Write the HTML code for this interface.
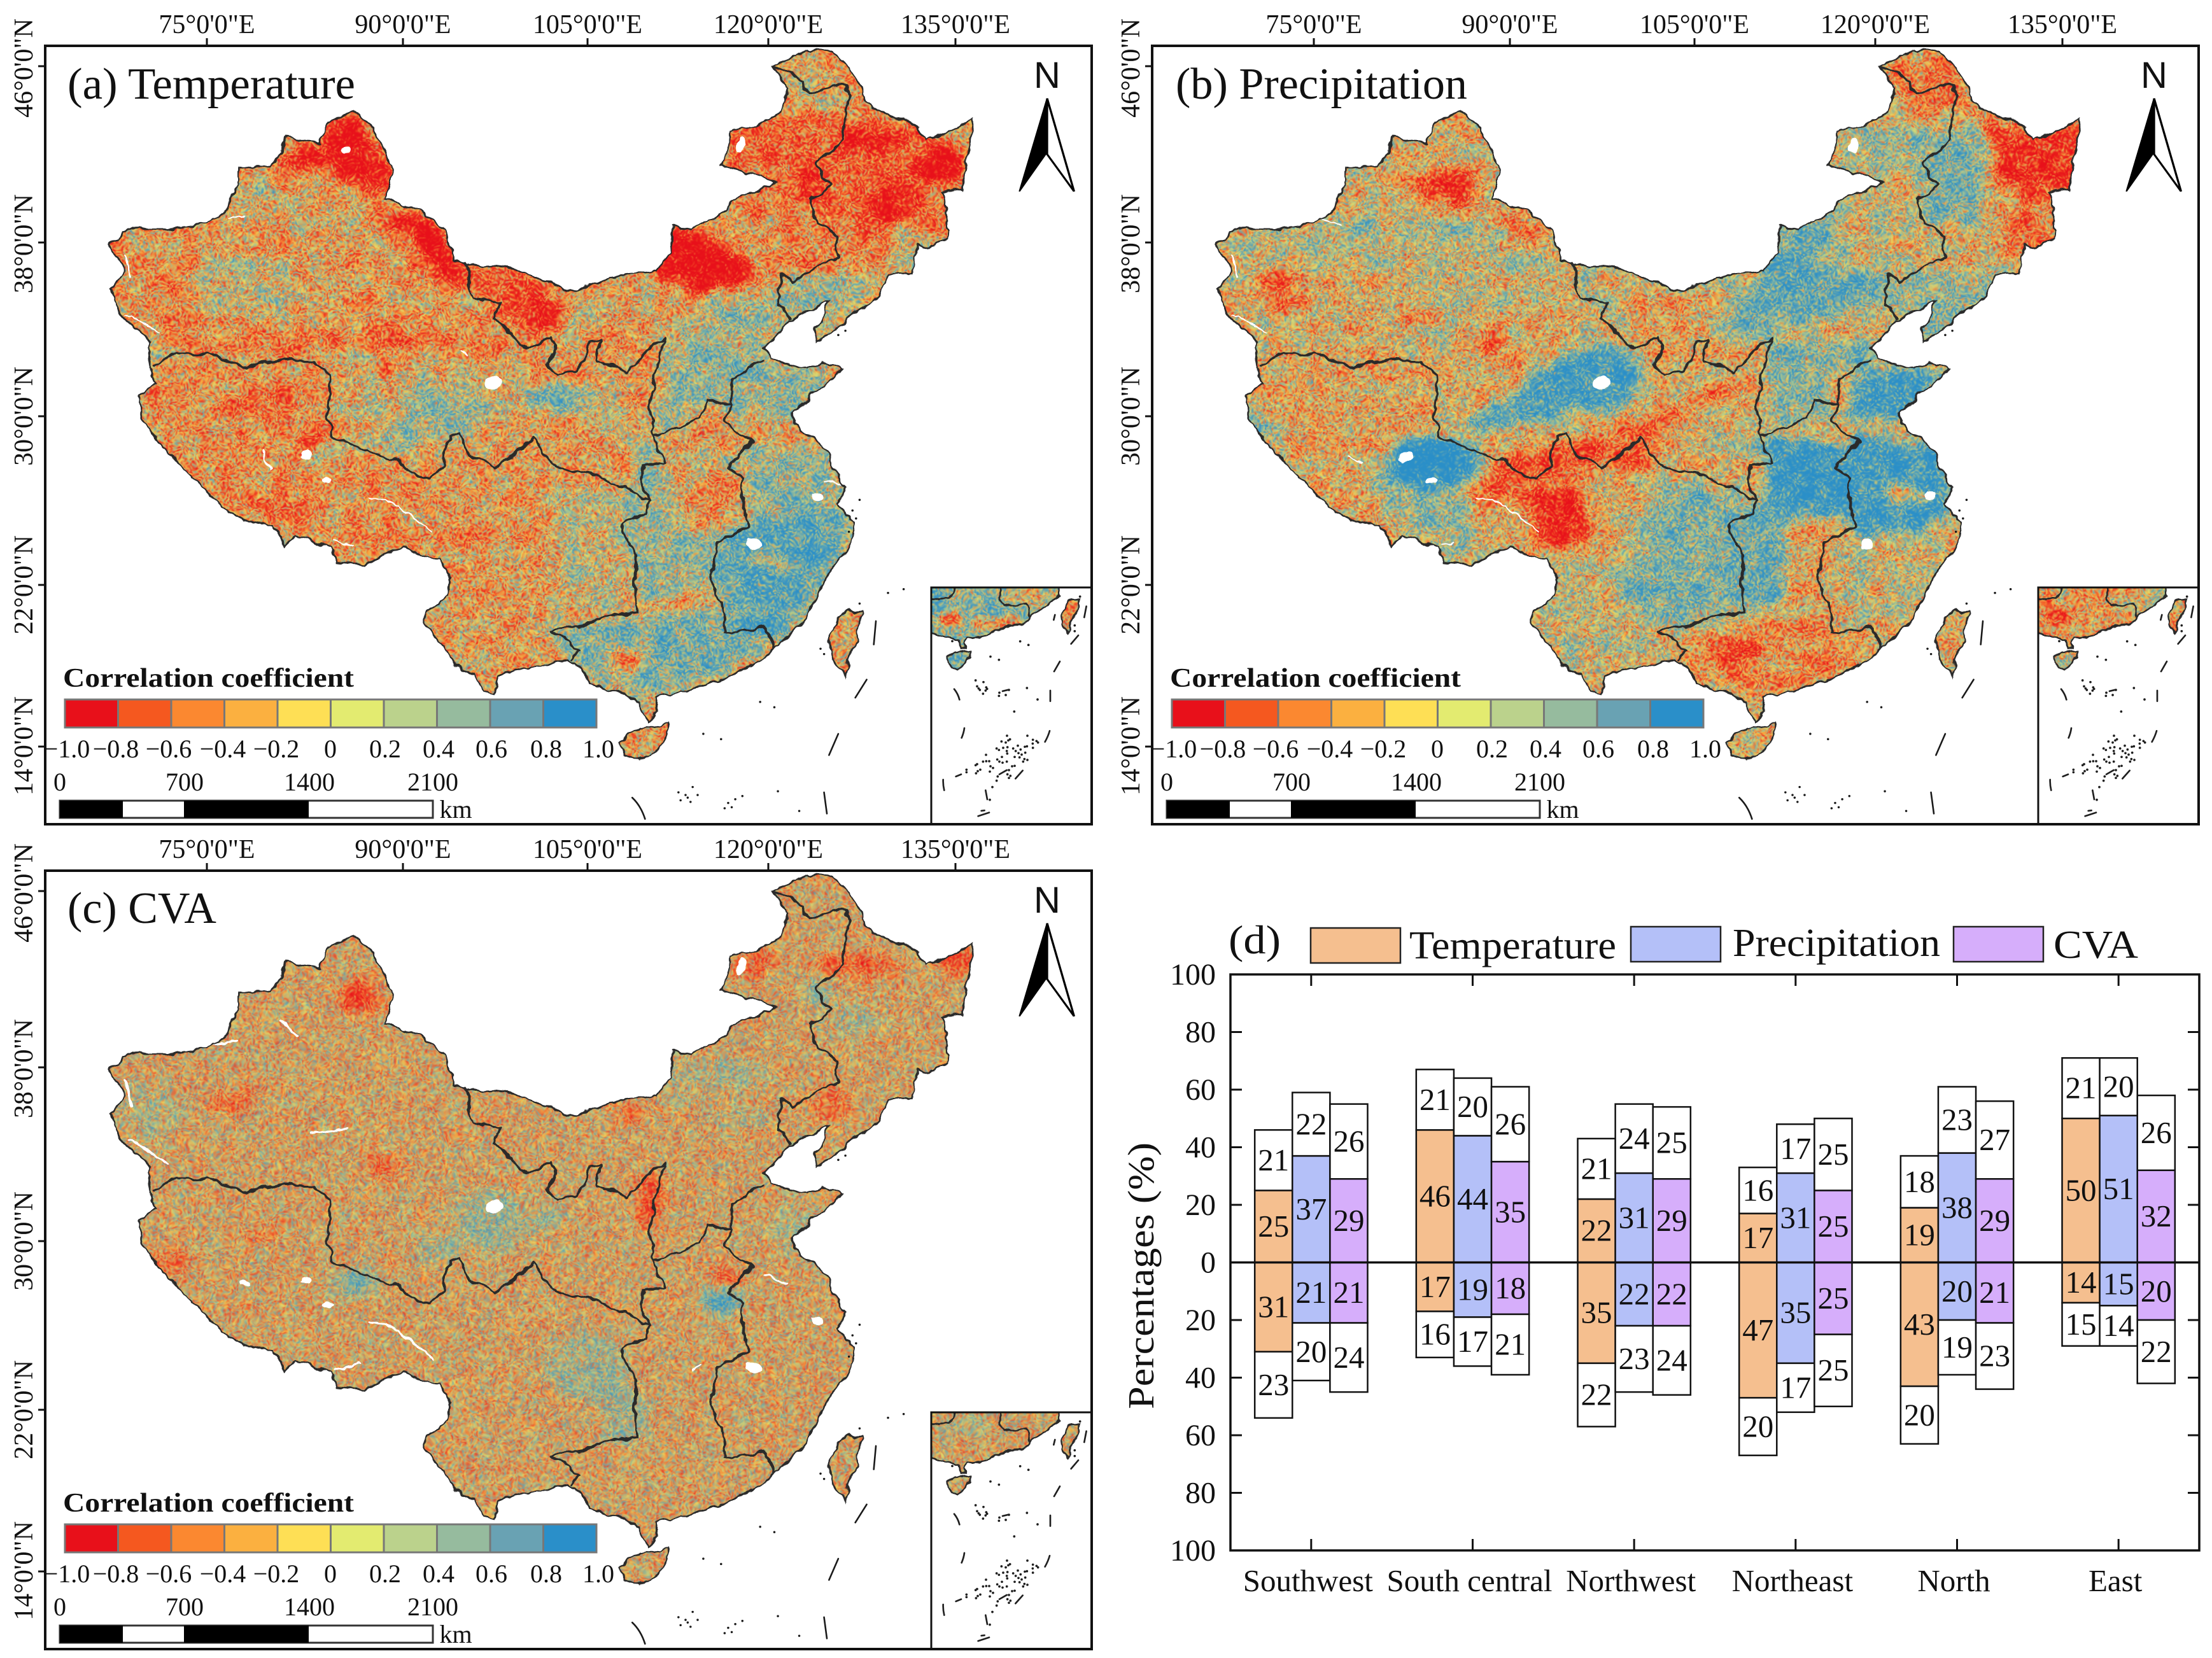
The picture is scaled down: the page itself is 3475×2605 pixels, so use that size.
<!DOCTYPE html>
<html lang="en">
<head>
<meta charset="utf-8">
<title>Correlation maps and regional percentages</title>
<style>
html,body{margin:0;padding:0;background:#fff}
svg{display:block}
text{font-family:"Liberation Serif",serif;fill:#111}
.tick{font-size:42px}
.cb{font-size:40px;text-anchor:middle}
.title{font-size:70px}
.ctitle{font-size:42px;font-weight:bold}
.north{font-family:"Liberation Sans",sans-serif;font-size:58px;text-anchor:middle}
</style>
</head>
<body>
<svg id="figure" width="3475" height="2605" viewBox="0 0 3475 2605">
<defs>
  <path id="china-shape" vector-effect="non-scaling-stroke" d="M1087 125L1135 95L1170 97L1195 125L1215 175L1235 210L1270 222L1295 240L1305 265L1340 245L1372 222L1362 290L1355 355L1325 360L1332 400L1333 445L1315 465L1290 460L1285 515L1255 515L1235 560L1195 595L1170 625L1150 645L1147 615L1160 590L1165 565L1130 590L1112 605L1090 635L1075 655L1085 675L1110 685L1135 695L1155 680L1185 695L1170 715L1140 745L1115 775L1125 810L1155 835L1175 880L1190 920L1180 945L1200 985L1195 1030L1170 1070L1150 1120L1130 1170L1095 1215L1075 1240L1030 1270L1000 1285L960 1300L925 1310L925 1340L912 1355L900 1320L870 1300L830 1285L820 1260L795 1240L745 1255L700 1270L695 1305L680 1300L670 1270L640 1250L625 1215L600 1175L600 1155L630 1120L635 1090L620 1050L600 1048L565 1030L510 1060L475 1055L465 1030L415 1005L400 1025L385 990L345 980L310 950L265 890L235 850L200 790L195 745L220 725L210 690L212 640L175 600L155 545L175 510L155 460L175 435L205 430L235 430L290 420L320 395L335 350L335 312L380 315L405 258L450 270L462 230L495 210L525 240L552 310L545 375L590 395L625 430L640 490L720 505L790 540L810 548L860 520L925 510L945 475L945 428L975 430L1010 405L1040 370L1085 350L1095 340L1030 320L1015 315L1030 245L1065 240L1100 210L1110 170Z"/>
  <path id="island-shapes" vector-effect="non-scaling-stroke" d="M1195 1150L1212 1150L1208 1190L1195 1240L1190 1272L1172 1235L1168 1195L1180 1165ZM873 1395L900 1368L940 1358L938 1380L925 1410L900 1430L878 1422Z"/>
  <path id="inset-land" vector-effect="non-scaling-stroke" d="M30 50L640 50L640 110L600 140L560 170L510 205L470 235L400 255L345 270L300 295L210 310L195 335L205 358L180 360L165 320L130 305L70 295L30 285ZM690 135L735 125L730 170L700 230L682 285L650 240L645 200L665 165ZM115 405L150 375L225 370L225 395L200 430L165 458L130 445L112 425Z"/>
  <clipPath id="china-clip">
    <use href="#china-shape" transform="scale(1.116 .8355)"/>
    <use href="#island-shapes" transform="scale(1.116 .8355)"/>
  </clipPath>
  <clipPath id="inset-land-clip">
    <use href="#inset-land" transform="translate(1450 900) scale(.3333)"/>
  </clipPath>
  <clipPath id="inset-frame-clip">
    <rect x="1463" y="923" width="252" height="372"/>
  </clipPath>
  <filter id="blur" x="-5%" y="-5%" width="110%" height="110%"><feGaussianBlur stdDeviation="11"/></filter>
  <filter id="wiggle" filterUnits="userSpaceOnUse" x="60" y="60" width="1680" height="1250" color-interpolation-filters="sRGB">
    <feTurbulence type="fractalNoise" baseFrequency="0.04" numOctaves="3" seed="5" result="w"/>
    <feDisplacementMap in="SourceGraphic" in2="w" scale="14" xChannelSelector="R" yChannelSelector="G"/>
  </filter>
  <filter id="raster-a" filterUnits="userSpaceOnUse" x="60" y="60" width="1680" height="1250" color-interpolation-filters="sRGB">
    <feTurbulence type="fractalNoise" baseFrequency="0.33" numOctaves="2" seed="3" result="t1"/>
    <feColorMatrix in="t1" type="matrix" values="0 0 0 1 0 0 0 0 1 0 0 0 0 1 0 0 0 0 0 1" result="n1"/>
    <feTurbulence type="fractalNoise" baseFrequency="0.035" numOctaves="3" seed="8" result="t2"/>
    <feColorMatrix in="t2" type="matrix" values="0 0 0 1 0 0 0 0 1 0 0 0 0 1 0 0 0 0 0 1" result="n2"/>
    <feComposite in="n1" in2="n2" operator="arithmetic" k1="0" k2=".78" k3=".22" k4="0" result="nn"/>
    <feComposite in="SourceGraphic" in2="nn" operator="arithmetic" k1="0" k2="1.6" k3="3.2" k4="-1.9" result="m"/>
    <feComponentTransfer in="m">
      <feFuncR type="discrete" tableValues=".91 .96 .984 .984 .996 .89 .733 .588 .412 .165"/>
      <feFuncG type="discrete" tableValues=".063 .345 .533 .69 .875 .922 .824 .733 .635 .561"/>
      <feFuncB type="discrete" tableValues=".102 .122 .188 .25 .333 .439 .549 .62 .702 .788"/>
    </feComponentTransfer>
    <feGaussianBlur stdDeviation="1.1"/>
  </filter>
  <filter id="raster-b" filterUnits="userSpaceOnUse" x="60" y="60" width="1680" height="1250" color-interpolation-filters="sRGB">
    <feTurbulence type="fractalNoise" baseFrequency="0.33" numOctaves="2" seed="11" result="t1"/>
    <feColorMatrix in="t1" type="matrix" values="0 0 0 1 0 0 0 0 1 0 0 0 0 1 0 0 0 0 0 1" result="n1"/>
    <feTurbulence type="fractalNoise" baseFrequency="0.035" numOctaves="3" seed="17" result="t2"/>
    <feColorMatrix in="t2" type="matrix" values="0 0 0 1 0 0 0 0 1 0 0 0 0 1 0 0 0 0 0 1" result="n2"/>
    <feComposite in="n1" in2="n2" operator="arithmetic" k1="0" k2=".78" k3=".22" k4="0" result="nn"/>
    <feComposite in="SourceGraphic" in2="nn" operator="arithmetic" k1="0" k2="1.6" k3="3.2" k4="-1.9" result="m"/>
    <feComponentTransfer in="m">
      <feFuncR type="discrete" tableValues=".91 .96 .984 .984 .996 .89 .733 .588 .412 .165"/>
      <feFuncG type="discrete" tableValues=".063 .345 .533 .69 .875 .922 .824 .733 .635 .561"/>
      <feFuncB type="discrete" tableValues=".102 .122 .188 .25 .333 .439 .549 .62 .702 .788"/>
    </feComponentTransfer>
    <feGaussianBlur stdDeviation="1.1"/>
  </filter>
  <filter id="raster-c" filterUnits="userSpaceOnUse" x="60" y="60" width="1680" height="1250" color-interpolation-filters="sRGB">
    <feTurbulence type="fractalNoise" baseFrequency="0.36" numOctaves="2" seed="23" result="t1"/>
    <feColorMatrix in="t1" type="matrix" values="0 0 0 1 0 0 0 0 1 0 0 0 0 1 0 0 0 0 0 1" result="n1"/>
    <feTurbulence type="fractalNoise" baseFrequency="0.04" numOctaves="3" seed="29" result="t2"/>
    <feColorMatrix in="t2" type="matrix" values="0 0 0 1 0 0 0 0 1 0 0 0 0 1 0 0 0 0 0 1" result="n2"/>
    <feComposite in="n1" in2="n2" operator="arithmetic" k1="0" k2=".88" k3=".12" k4="0" result="nn"/>
    <feComposite in="SourceGraphic" in2="nn" operator="arithmetic" k1="0" k2="1.6" k3="3" k4="-1.8" result="m"/>
    <feComponentTransfer in="m">
      <feFuncR type="discrete" tableValues=".91 .96 .984 .984 .996 .89 .733 .588 .412 .165"/>
      <feFuncG type="discrete" tableValues=".063 .345 .533 .69 .875 .922 .824 .733 .635 .561"/>
      <feFuncB type="discrete" tableValues=".102 .122 .188 .25 .333 .439 .549 .62 .702 .788"/>
    </feComponentTransfer>
    <feGaussianBlur stdDeviation="1.2"/>
  </filter>

  <g id="map-lines" transform="scale(1.116 .8355)" fill="none" stroke="#2a2a2a">
    <use href="#china-shape" stroke-width="2.6"/>
    <use href="#island-shapes" stroke-width="2.6"/>
    <path stroke-width="3.6" vector-effect="non-scaling-stroke" stroke-linejoin="round" d="M215 688L250 665L290 665L345 690L395 678L440 680L465 705L460 780L470 820L510 845L560 865L580 890L605 900L625 875L630 820L645 815L660 850L695 882L720 860L750 825L785 880L830 890L875 915L915 940L905 965L875 985L880 1010L895 1040L895 1100L895 1150L840 1160L825 1175L775 1185L800 1205L815 1225L800 1240M655 490L665 560L705 570L695 600L720 630L740 655L775 635L785 650L770 685L785 707L815 695L830 645L845 640L840 680L885 700L910 660L935 635L920 710L915 770L920 820L935 870L905 875L905 905L915 940M920 820L985 790L995 755L1030 760L1020 795L1060 830L1040 850L1025 880L1045 900L1045 950L1055 990L1010 1020L1000 1090L1015 1130L1020 1190L1075 1178L1090 1220M1030 760L1030 710L1075 675M1087 125L1130 150L1140 175L1190 160L1195 180L1185 260L1150 310L1170 350L1140 375L1150 420L1180 440L1180 480L1115 530L1100 515L1095 570L1115 600"/>
  </g>

  <g id="inset-lines" transform="translate(1450 900) scale(.3333)" fill="none" stroke="#2a2a2a">
    <use href="#inset-land" stroke-width="2.8"/>
    <path stroke-width="3.2" vector-effect="non-scaling-stroke" stroke-linejoin="round" d="M30 118L75 128L120 115L155 65M365 60L365 120L385 155L440 155L485 150L500 175L510 205"/>
  </g>

  <g id="sea-features" transform="scale(1.116 .8355)" fill="none" stroke="#1a1a1a" stroke-linecap="round">
    <path stroke-width="2.6" vector-effect="non-scaling-stroke" d="M1233 1168L1230 1212M1220 1278L1204 1312M1180 1380L1167 1420M1160 1490L1164 1530M890 1500Q902 1515 908 1540"/>
    <path stroke-width="3.4" vector-effect="non-scaling-stroke" d="M955 1490h.1M965 1495h.1M975 1480h.1M958 1505h.1M972 1508h.1M982 1495h.1M968 1500h.1M1025 1510h.1M1035 1503h.1M1045 1497h.1M1020 1520h.1M1030 1518h.1M1070 1320h.1M1090 1330h.1M990 1380h.1M1015 1390h.1M1125 1525h.1M1095 1488h.1M1155 1220h.1M1160 1230h.1M1200 960h.1M1205 975h.1M1210 940h.1M1195 1000h.1M1180 630h.1M1190 622h.1M1250 1115h.1M1272 1108h.1M1210 1135h.1"/>
  </g>

  <g id="inset-sea" transform="translate(1450 900) scale(.3333)" fill="none" stroke="#1f1f1f" stroke-linecap="round">
    <path stroke-width="8" d="M770 158L760 210M732 295L698 335M645 418L618 465M600 555L600 605M147 548Q165 570 172 598M195 732Q192 755 182 778M597 745Q590 770 575 797M470 932L436 970M95 975Q94 1000 100 1025M312 1130L260 1147M275 1122L290 1120M622 198L616 222M375 558L400 552M155 960L180 950M360 950L395 930M295 1025L303 1068"/>
    <path stroke-width="11" d="M740 112h.1M715 248h.1M715 275h.1M138 322h.1M458 323h.1M497 340h.1M318 395h.1M358 410h.1M248 507h.1M285 515h.1M255 535h.1M262 545h.1M298 540h.1M302 547h.1M295 555h.1M283 570h.1M268 552h.1M360 565h.1M358 580h.1M390 576h.1M405 552h.1M490 543h.1M540 597h.1M430 654h.1M396 768h.1M492 768h.1M518 787h.1M535 793h.1M542 800h.1M370 795h.1M390 800h.1M402 790h.1M410 785h.1M517 805h.1M490 818h.1M480 820h.1M447 815h.1M518 825h.1M347 828h.1M358 835h.1M378 825h.1M398 822h.1M425 828h.1M395 840h.1M397 852h.1M437 840h.1M460 833h.1M450 850h.1M465 857h.1M482 848h.1M297 858h.1M372 868h.1M432 868h.1M455 870h.1M478 878h.1M492 882h.1M472 890h.1M350 880h.1M360 890h.1M375 895h.1M395 890h.1M283 890h.1M298 888h.1M312 888h.1M255 902h.1M248 907h.1M318 912h.1M330 920h.1M432 910h.1M420 912h.1M205 928h.1M205 940h.1M270 928h.1M258 935h.1M250 945h.1M315 937h.1M405 930h.1M398 950h.1M412 957h.1M405 967h.1M352 960h.1M347 980h.1M327 1010h.1M315 1070h.1"/>
  </g>

  <g id="north-shape" transform="scale(1.116 .8355)">
    <path d="M1474 185L1435 360L1472 290Z" fill="#000" stroke="#000" stroke-width="2"/>
    <path d="M1474 185L1512 360L1474 290Z" fill="#fff" stroke="#000" stroke-width="3"/>
  </g>

  <g id="ticks-frame" stroke="#111" stroke-width="3" fill="none">
    <path d="M325 60V72M633 60V72M923 60V72M1207 60V72M1501 60V72M60 104H71M60 381H71M60 654H71M60 919H71M60 1173H71"/>
    <rect x="71" y="72" width="1644" height="1223" stroke-width="4"/>
    <rect x="1463" y="923" width="252" height="372" stroke-width="3"/>
  </g>

  <g id="colorbar-swatches" stroke="#777" stroke-width="3">
    <rect x="102" y="1099" width="83.5" height="44" fill="#e8101a"/>
    <rect x="185.5" y="1099" width="83.5" height="44" fill="#f5581f"/>
    <rect x="269" y="1099" width="83.5" height="44" fill="#fb8830"/>
    <rect x="352.5" y="1099" width="83.5" height="44" fill="#fbb040"/>
    <rect x="436" y="1099" width="83.5" height="44" fill="#fedf55"/>
    <rect x="519.5" y="1099" width="83.5" height="44" fill="#e3eb70"/>
    <rect x="603" y="1099" width="83.5" height="44" fill="#bbd28c"/>
    <rect x="686.5" y="1099" width="83.5" height="44" fill="#96bb9e"/>
    <rect x="770" y="1099" width="83.5" height="44" fill="#69a2b3"/>
    <rect x="853.5" y="1099" width="83.5" height="44" fill="#2a8fc9"/>
  </g>

  <g id="scale-bar">
    <rect x="94" y="1258" width="586" height="27" fill="#fff" stroke="#333" stroke-width="3"/>
    <rect x="94" y="1258" width="99" height="27" fill="#000"/>
    <rect x="289" y="1258" width="196" height="27" fill="#000"/>
  </g>
</defs>

<rect x="0" y="0" width="3475" height="2605" fill="#fff"/>

<!-- PANEL A -->
<g id="panel-a">
  <g filter="url(#wiggle)">
    <g clip-path="url(#china-clip)">
      <g filter="url(#raster-a)">
        <rect x="60" y="60" width="1680" height="1250" fill="#6e6e6e"/>
        <g transform="scale(1.116 .8355)" filter="url(#blur)">
          <path fill="#686868" d="M195 700L460 700L470 830L620 900L620 1050L470 1060L300 940L200 800Z"/>
          <path fill="#7f7f7f" d="M335 320L450 380L500 400L530 440L400 430L320 400Z"/>
          <path fill="#6e6e6e" d="M170 440L520 440L620 520L600 620L200 610Z"/>
          <ellipse cx="330" cy="540" rx="105" ry="50" fill="#8e8e8e"/>
          <ellipse cx="250" cy="545" rx="38" ry="40" fill="#5a5a5a"/>
          <path fill="#565656" d="M205 605L400 630L560 620L720 640L720 680L500 680L250 650Z"/>
          <path fill="#828282" d="M460 660L720 680L760 780L640 850L480 800Z"/>
          <path fill="#707070" d="M620 880L790 880L900 950L890 1150L770 1190L800 1240L700 1300L640 1230L600 1160L630 1090Z"/>
          <path fill="#8a8a8a" d="M780 900L895 930L880 1140L790 1170Z"/>
          <path fill="#a4a4a4" d="M900 820L1040 860L1040 1000L1000 1100L900 1130L880 1000Z"/>
          <path fill="#787878" d="M925 830L1040 880L1040 1000L950 1010Z"/>
          <path fill="#c9c9c9" d="M1060 970L1190 950L1190 1050L1100 1210L1020 1180L1010 1030Z"/>
          <path fill="#a6a6a6" d="M1040 830L1160 850L1190 940L1060 970Z"/>
          <path fill="#a6a6a6" d="M945 620L1080 620L1080 680L1180 700L1120 800L1040 780L1000 760L925 810Z"/>
          <path fill="#b3b3b3" d="M770 1190L1000 1140L1090 1220L1000 1285L900 1310L820 1260Z"/>
          <path fill="#999" d="M1100 520L1250 500L1200 590L1150 640L1110 600Z"/>
          <path fill="#9c9c9c" d="M1000 560L1110 540L1110 620L1040 680L950 640Z"/>
          <path fill="#7c7c7c" d="M800 550L950 550L950 620L860 640L800 620Z"/>
          <path fill="#4a4a4a" d="M1030 245L1100 200L1290 230L1340 260L1340 420L1290 510L1240 470L1170 400L1050 360L1020 320Z"/>
          <path fill="#5e5e5e" d="M1040 380L1170 400L1240 470L1250 520L1110 520L1060 470Z"/>
          <path fill="#7c7c7c" d="M1095 125L1175 105L1190 200L1110 220Z"/>
          <path fill="#8c8c8c" d="M1260 430L1330 440L1290 510L1240 520Z"/>
          <path fill="#000" d="M462 230L495 215L548 310L545 370L490 335L460 300Z"/>
          <path fill="#1a1a1a" d="M385 295L460 265L465 320L400 325Z"/>
          <path fill="#000" d="M525 420L570 395L620 430L645 500L655 545L600 520L580 440Z"/>
          <path fill="#3c3c3c" d="M640 490L720 505L790 545L800 600L760 650L690 580Z"/>
          <ellipse cx="770" cy="585" rx="24" ry="20" fill="#111"/>
          <path fill="#000" d="M940 425L975 430L1015 470L1055 490L1060 545L980 555L925 510Z"/>
          <ellipse cx="1220" cy="265" rx="42" ry="30" fill="#111"/>
          <ellipse cx="1320" cy="310" rx="35" ry="40" fill="#000"/>
          <ellipse cx="1255" cy="385" rx="30" ry="45" fill="#111"/>
          <ellipse cx="1140" cy="350" rx="16" ry="45" fill="#000"/>
          <ellipse cx="550" cy="635" rx="18" ry="28" fill="#262626"/>
          <ellipse cx="545" cy="690" rx="22" ry="14" fill="#262626"/>
          <ellipse cx="440" cy="830" rx="24" ry="26" fill="#262626"/>
          <ellipse cx="380" cy="760" rx="60" ry="30" fill="#505050"/>
          <ellipse cx="465" cy="850" rx="26" ry="20" fill="#8c8c8c"/>
          <ellipse cx="390" cy="950" rx="70" ry="22" fill="#4d4d4d"/>
          <ellipse cx="800" cy="748" rx="62" ry="22" fill="#c0c0c0"/>
          <ellipse cx="620" cy="775" rx="60" ry="45" fill="#a0a0a0"/>
          <ellipse cx="570" cy="825" rx="60" ry="28" fill="#9a9a9a"/>
          <ellipse cx="865" cy="780" rx="68" ry="50" fill="#848484"/>
          <ellipse cx="893" cy="760" rx="13" ry="28" fill="#404040"/>
          <ellipse cx="880" cy="630" rx="28" ry="28" fill="#5c5c5c"/>
          <ellipse cx="1015" cy="925" rx="28" ry="20" fill="#505050"/>
          <ellipse cx="995" cy="965" rx="22" ry="20" fill="#5c5c5c"/>
          <ellipse cx="880" cy="1240" rx="24" ry="30" fill="#404040"/>
          <ellipse cx="1090" cy="1060" rx="20" ry="14" fill="#4d4d4d"/>
          <ellipse cx="660" cy="1000" rx="30" ry="40" fill="#606060"/>
        </g>
      </g>
      <g transform="scale(1.116 .8355)" stroke="#fff" fill="#fff" stroke-linecap="round">
        <ellipse cx="695" cy="720" rx="10" ry="12"/>
        <ellipse cx="430" cy="855" rx="8" ry="10"/>
        <ellipse cx="1150" cy="932" rx="8" ry="8"/>
        <ellipse cx="1060" cy="1022" rx="9" ry="11"/>
        <ellipse cx="1045" cy="275" rx="5" ry="14"/>
        <ellipse cx="488" cy="280" rx="6" ry="5"/>
        <ellipse cx="458" cy="905" rx="7" ry="5"/>
        <path fill="none" stroke-width="2.5" d="M520 938L560 950L605 1000M175 590L225 625M470 1015L500 1025M175 480L185 520M1160 905L1190 915M320 412L345 408M650 660L655 665M370 850L380 880"/>
      </g>
    </g>
    <use href="#map-lines"/>
  </g>
  <g clip-path="url(#inset-frame-clip)">
    <g filter="url(#wiggle)">
      <g clip-path="url(#inset-land-clip)">
        <g filter="url(#raster-a)">
          <rect x="60" y="60" width="1680" height="1250" fill="#a8a8a8"/>
          <g transform="translate(1450 900) scale(.3333)" filter="url(#blur)">
            <ellipse cx="130" cy="215" rx="50" ry="40" fill="#484848"/>
            <ellipse cx="540" cy="120" rx="110" ry="60" fill="#808080"/>
            <ellipse cx="350" cy="240" rx="140" ry="30" fill="#767676"/>
            <ellipse cx="690" cy="210" rx="60" ry="100" fill="#6e6e6e"/>
          </g>
        </g>
      </g>
      <use href="#inset-lines"/>
    </g>
  </g>
  <use href="#sea-features"/>
  <use href="#inset-sea"/>
  <use href="#ticks-frame"/>
  <text class="title" x="106" y="155" textLength="452" lengthAdjust="spacingAndGlyphs">(a) Temperature</text>
  <g class="tick" text-anchor="middle">
    <text x="325" y="52">75°0'0"E</text>
    <text x="633" y="52">90°0'0"E</text>
    <text x="923" y="52">105°0'0"E</text>
    <text x="1207" y="52">120°0'0"E</text>
    <text x="1501" y="52">135°0'0"E</text>
  </g>
  <g class="tick" text-anchor="middle">
    <text transform="translate(51 107) rotate(-90)">46°0'0"N</text>
    <text transform="translate(51 383) rotate(-90)">38°0'0"N</text>
    <text transform="translate(51 654) rotate(-90)">30°0'0"N</text>
    <text transform="translate(51 919) rotate(-90)">22°0'0"N</text>
    <text transform="translate(51 1172) rotate(-90)">14°0'0"N</text>
  </g>
  <text class="north" x="1645" y="138">N</text>
  <use href="#north-shape"/>
  <text class="ctitle" x="99" y="1079" textLength="457" lengthAdjust="spacingAndGlyphs">Correlation coefficient</text>
  <use href="#colorbar-swatches"/>
  <g>
    <text class="cb" x="105" y="1190">−1.0</text>
    <text class="cb" x="182" y="1190">−0.8</text>
    <text class="cb" x="265" y="1190">−0.6</text>
    <text class="cb" x="350" y="1190">−0.4</text>
    <text class="cb" x="434" y="1190">−0.2</text>
    <text class="cb" x="519" y="1190">0</text>
    <text class="cb" x="605" y="1190">0.2</text>
    <text class="cb" x="689" y="1190">0.4</text>
    <text class="cb" x="772" y="1190">0.6</text>
    <text class="cb" x="858" y="1190">0.8</text>
    <text class="cb" x="940" y="1190">1.0</text>
  </g>
  <g>
    <text class="cb" x="94" y="1242">0</text>
    <text class="cb" x="290" y="1242">700</text>
    <text class="cb" x="486" y="1242">1400</text>
    <text class="cb" x="680" y="1242">2100</text>
    <text class="cb" x="716" y="1285">km</text>
  </g>
  <use href="#scale-bar"/>
</g>

<!-- PANEL B -->
<g id="panel-b" transform="translate(1739 0)">
  <g filter="url(#wiggle)">
    <g clip-path="url(#china-clip)">
      <g filter="url(#raster-b)">
        <rect x="60" y="60" width="1680" height="1250" fill="#7d7d7d"/>
        <g transform="scale(1.116 .8355)" filter="url(#blur)">
          <path fill="#8c8c8c" d="M170 430L330 400L620 470L640 520L500 650L210 640Z"/>
          <path fill="#a6a6a6" d="M320 410L560 430L560 450L320 440Z"/>
          <ellipse cx="250" cy="550" rx="46" ry="48" fill="#505050"/>
          <ellipse cx="360" cy="550" rx="90" ry="38" fill="#7a7a7a"/>
          <path fill="#5c5c5c" d="M250 620L470 580L470 600L280 640Z"/>
          <path fill="#747474" d="M200 660L440 680L450 820L420 1000L300 940L200 790Z"/>
          <path fill="#a6a6a6" d="M360 880L530 880L510 1050L420 1000Z"/>
          <path fill="#d0d0d0" d="M190 745L240 830L205 810Z"/>
          <ellipse cx="460" cy="870" rx="62" ry="46" fill="#fff"/>
          <path fill="#d0d0d0" d="M470 810L640 790L720 700L640 665L570 750Z"/>
          <ellipse cx="690" cy="710" rx="58" ry="58" fill="#e0e0e0"/>
          <path fill="#8c8c8c" d="M640 490L950 530L900 640L720 650L660 580Z"/>
          <path fill="#6e6e6e" d="M720 540L850 560L860 650L740 650Z"/>
          <path fill="#c4c4c4" d="M945 430L1040 400L1100 500L1100 560L940 620L860 640L925 510Z"/>
          <path fill="#8c8c8c" d="M1040 370L1140 370L1150 470L1090 520L1000 500Z"/>
          <path fill="#b3b3b3" d="M1150 250L1240 250L1230 420L1150 420Z"/>
          <path fill="#9e9e9e" d="M1040 240L1150 230L1150 320L1040 320Z"/>
          <path fill="#505050" d="M1100 120L1180 100L1210 200L1130 210Z"/>
          <path fill="#a0a0a0" d="M1100 510L1280 500L1240 560L1150 640L1110 600Z"/>
          <path fill="#c4c4c4" d="M1150 600L1240 555L1200 600L1160 640Z"/>
          <path fill="#2a2a2a" d="M1235 225L1300 240L1380 225L1370 355L1320 380L1240 340Z"/>
          <ellipse cx="1300" cy="440" rx="40" ry="70" fill="#505050"/>
          <path fill="#b0b0b0" d="M930 640L1090 640L1070 760L930 810Z"/>
          <ellipse cx="1032" cy="730" rx="16" ry="44" fill="#3c3c3c"/>
          <path fill="#d9d9d9" d="M1060 690L1190 700L1120 790L1040 790Z"/>
          <path fill="#8c8c8c" d="M820 800L920 780L920 880L830 880Z"/>
          <path fill="#444" d="M700 830L790 770L880 720L930 680L935 695L830 775L760 845Z"/>
          <path fill="#3a3a3a" d="M510 920L560 860L620 845L690 820L750 830L780 880L650 885L600 960Z"/>
          <ellipse cx="640" cy="975" rx="40" ry="62" fill="#1a1a1a"/>
          <ellipse cx="530" cy="925" rx="32" ry="32" fill="#4a4a4a"/>
          <path fill="#8a8a8a" d="M610 1050L780 1040L780 1190L700 1290L640 1240L600 1170Z"/>
          <path fill="#b0b0b0" d="M780 900L900 930L900 1150L770 1180L720 1100Z"/>
          <path fill="#e6e6e6" d="M930 820L1055 840L1050 980L930 960Z"/>
          <path fill="#dcdcdc" d="M1055 810L1170 840L1195 960L1140 1000L1050 1010Z"/>
          <path fill="#8a8a8a" d="M1140 1000L1200 990L1160 1110L1090 1190L1020 1160L1020 1040Z"/>
          <path fill="#c0c0c0" d="M900 950L960 960L950 1130L900 1150Z"/>
          <path fill="#6e6e6e" d="M960 960L1040 970L1010 1100L1010 1190L950 1140Z"/>
          <path fill="#626262" d="M800 1200L1010 1160L1090 1220L1000 1285L900 1310L820 1260Z"/>
          <ellipse cx="890" cy="1230" rx="38" ry="26" fill="#303030"/>
          <ellipse cx="1120" cy="930" rx="40" ry="14" fill="#4d4d4d"/>
          <ellipse cx="490" cy="355" rx="22" ry="34" fill="#111"/>
          <path fill="#262626" d="M395 335L470 330L525 400L480 380Z"/>
          <path fill="#333" d="M560 395L615 455L600 465L555 420Z"/>
          <ellipse cx="535" cy="640" rx="20" ry="30" fill="#262626"/>
          <ellipse cx="570" cy="690" rx="14" ry="20" fill="#4d4d4d"/>
        </g>
      </g>
      <g transform="scale(1.116 .8355)" stroke="#fff" fill="#fff" stroke-linecap="round">
        <ellipse cx="697" cy="720" rx="10" ry="12"/>
        <ellipse cx="420" cy="858" rx="8" ry="9"/>
        <ellipse cx="455" cy="905" rx="9" ry="5"/>
        <ellipse cx="1158" cy="930" rx="8" ry="8"/>
        <ellipse cx="1068" cy="1022" rx="9" ry="11"/>
        <ellipse cx="1052" cy="275" rx="5" ry="14"/>
        <path fill="none" stroke-width="2.5" d="M520 938L560 950L605 1000M175 590L225 625M470 1025L490 1020M175 480L185 520M300 410L330 425M340 860L360 870"/>
      </g>
    </g>
    <use href="#map-lines"/>
  </g>
  <g clip-path="url(#inset-frame-clip)">
    <g filter="url(#wiggle)">
      <g clip-path="url(#inset-land-clip)">
        <g filter="url(#raster-b)">
          <rect x="60" y="60" width="1680" height="1250" fill="#6c6c6c"/>
          <g transform="translate(1450 900) scale(.3333)" filter="url(#blur)">
            <ellipse cx="130" cy="210" rx="60" ry="45" fill="#444"/>
            <ellipse cx="520" cy="120" rx="120" ry="50" fill="#888"/>
            <ellipse cx="170" cy="420" rx="55" ry="35" fill="#9a9a9a"/>
          </g>
        </g>
      </g>
      <use href="#inset-lines"/>
    </g>
  </g>
  <use href="#sea-features"/>
  <use href="#inset-sea"/>
  <use href="#ticks-frame"/>
  <text class="title" x="108" y="155" textLength="458" lengthAdjust="spacingAndGlyphs">(b) Precipitation</text>
  <g class="tick" text-anchor="middle">
    <text x="325" y="52">75°0'0"E</text>
    <text x="633" y="52">90°0'0"E</text>
    <text x="923" y="52">105°0'0"E</text>
    <text x="1207" y="52">120°0'0"E</text>
    <text x="1501" y="52">135°0'0"E</text>
  </g>
  <g class="tick" text-anchor="middle">
    <text transform="translate(51 107) rotate(-90)">46°0'0"N</text>
    <text transform="translate(51 383) rotate(-90)">38°0'0"N</text>
    <text transform="translate(51 654) rotate(-90)">30°0'0"N</text>
    <text transform="translate(51 919) rotate(-90)">22°0'0"N</text>
    <text transform="translate(51 1172) rotate(-90)">14°0'0"N</text>
  </g>
  <text class="north" x="1645" y="138">N</text>
  <use href="#north-shape"/>
  <text class="ctitle" x="99" y="1079" textLength="457" lengthAdjust="spacingAndGlyphs">Correlation coefficient</text>
  <use href="#colorbar-swatches"/>
  <g>
    <text class="cb" x="105" y="1190">−1.0</text>
    <text class="cb" x="182" y="1190">−0.8</text>
    <text class="cb" x="265" y="1190">−0.6</text>
    <text class="cb" x="350" y="1190">−0.4</text>
    <text class="cb" x="434" y="1190">−0.2</text>
    <text class="cb" x="519" y="1190">0</text>
    <text class="cb" x="605" y="1190">0.2</text>
    <text class="cb" x="689" y="1190">0.4</text>
    <text class="cb" x="772" y="1190">0.6</text>
    <text class="cb" x="858" y="1190">0.8</text>
    <text class="cb" x="940" y="1190">1.0</text>
  </g>
  <g>
    <text class="cb" x="94" y="1242">0</text>
    <text class="cb" x="290" y="1242">700</text>
    <text class="cb" x="486" y="1242">1400</text>
    <text class="cb" x="680" y="1242">2100</text>
    <text class="cb" x="716" y="1285">km</text>
  </g>
  <use href="#scale-bar"/>
</g>

<!-- PANEL C -->
<g id="panel-c" transform="translate(0 1296)">
  <g filter="url(#wiggle)">
    <g clip-path="url(#china-clip)">
      <g filter="url(#raster-c)">
        <rect x="60" y="60" width="1680" height="1250" fill="#7a7a7a"/>
        <g transform="scale(1.116 .8355)" filter="url(#blur)">
          <ellipse cx="690" cy="745" rx="50" ry="60" fill="#a0a0a0"/>
          <ellipse cx="770" cy="740" rx="22" ry="16" fill="#b8b8b8"/>
          <ellipse cx="620" cy="795" rx="30" ry="20" fill="#a6a6a6"/>
          <ellipse cx="1015" cy="895" rx="26" ry="26" fill="#d9d9d9"/>
          <ellipse cx="500" cy="860" rx="32" ry="26" fill="#b3b3b3"/>
          <ellipse cx="830" cy="1020" rx="55" ry="65" fill="#9c9c9c"/>
          <ellipse cx="880" cy="1110" rx="30" ry="55" fill="#a0a0a0"/>
          <ellipse cx="1150" cy="320" rx="14" ry="28" fill="#b3b3b3"/>
          <ellipse cx="1200" cy="370" rx="40" ry="30" fill="#949494"/>
          <ellipse cx="1020" cy="470" rx="55" ry="30" fill="#999"/>
          <ellipse cx="960" cy="490" rx="30" ry="30" fill="#8c8c8c"/>
          <ellipse cx="1050" cy="550" rx="30" ry="20" fill="#949494"/>
          <ellipse cx="215" cy="540" rx="40" ry="60" fill="#8f8f8f"/>
          <ellipse cx="1120" cy="760" rx="40" ry="50" fill="#8f8f8f"/>
          <ellipse cx="505" cy="325" rx="25" ry="30" fill="#262626"/>
          <ellipse cx="1345" cy="250" rx="25" ry="28" fill="#333"/>
          <ellipse cx="915" cy="705" rx="14" ry="50" fill="#262626"/>
          <ellipse cx="540" cy="640" rx="25" ry="20" fill="#404040"/>
          <ellipse cx="330" cy="520" rx="32" ry="20" fill="#4a4a4a"/>
          <ellipse cx="1018" cy="855" rx="24" ry="20" fill="#333"/>
          <ellipse cx="1205" cy="265" rx="65" ry="24" fill="#4a4a4a"/>
          <ellipse cx="1170" cy="525" rx="30" ry="30" fill="#4d4d4d"/>
          <ellipse cx="1060" cy="255" rx="30" ry="30" fill="#4a4a4a"/>
          <ellipse cx="890" cy="545" rx="16" ry="15" fill="#333"/>
          <ellipse cx="240" cy="820" rx="26" ry="24" fill="#4d4d4d"/>
          <ellipse cx="370" cy="775" rx="26" ry="20" fill="#595959"/>
        </g>
      </g>
      <g transform="scale(1.116 .8355)" stroke="#fff" fill="#fff" stroke-linecap="round">
        <ellipse cx="697" cy="718" rx="10" ry="12"/>
        <ellipse cx="1150" cy="930" rx="8" ry="8"/>
        <ellipse cx="1060" cy="1020" rx="10" ry="10"/>
        <ellipse cx="1045" cy="268" rx="5" ry="15"/>
        <ellipse cx="430" cy="856" rx="8" ry="6"/>
        <ellipse cx="345" cy="862" rx="7" ry="5"/>
        <ellipse cx="460" cy="905" rx="9" ry="5"/>
        <path fill="none" stroke-width="4" d="M520 936L560 950L608 1005M180 590L240 640M470 1025L505 1015M175 480L188 530M300 412L335 408M440 580L490 570M395 370L420 395M975 1025L985 1015M1080 850L1110 860"/>
      </g>
    </g>
    <use href="#map-lines"/>
  </g>
  <g clip-path="url(#inset-frame-clip)">
    <g filter="url(#wiggle)">
      <g clip-path="url(#inset-land-clip)">
        <g filter="url(#raster-c)">
          <rect x="60" y="60" width="1680" height="1250" fill="#7a7a7a"/>
          <g transform="translate(1450 900) scale(.3333)" filter="url(#blur)">
            <ellipse cx="200" cy="130" rx="130" ry="50" fill="#909090"/>
          </g>
        </g>
      </g>
      <use href="#inset-lines"/>
    </g>
  </g>
  <use href="#sea-features"/>
  <use href="#inset-sea"/>
  <use href="#ticks-frame"/>
  <text class="title" x="106" y="154" textLength="234" lengthAdjust="spacingAndGlyphs">(c) CVA</text>
  <g class="tick" text-anchor="middle">
    <text x="325" y="52">75°0'0"E</text>
    <text x="633" y="52">90°0'0"E</text>
    <text x="923" y="52">105°0'0"E</text>
    <text x="1207" y="52">120°0'0"E</text>
    <text x="1501" y="52">135°0'0"E</text>
  </g>
  <g class="tick" text-anchor="middle">
    <text transform="translate(51 107) rotate(-90)">46°0'0"N</text>
    <text transform="translate(51 383) rotate(-90)">38°0'0"N</text>
    <text transform="translate(51 654) rotate(-90)">30°0'0"N</text>
    <text transform="translate(51 919) rotate(-90)">22°0'0"N</text>
    <text transform="translate(51 1172) rotate(-90)">14°0'0"N</text>
  </g>
  <text class="north" x="1645" y="138">N</text>
  <use href="#north-shape"/>
  <text class="ctitle" x="99" y="1079" textLength="457" lengthAdjust="spacingAndGlyphs">Correlation coefficient</text>
  <use href="#colorbar-swatches"/>
  <g>
    <text class="cb" x="105" y="1190">−1.0</text>
    <text class="cb" x="182" y="1190">−0.8</text>
    <text class="cb" x="265" y="1190">−0.6</text>
    <text class="cb" x="350" y="1190">−0.4</text>
    <text class="cb" x="434" y="1190">−0.2</text>
    <text class="cb" x="519" y="1190">0</text>
    <text class="cb" x="605" y="1190">0.2</text>
    <text class="cb" x="689" y="1190">0.4</text>
    <text class="cb" x="772" y="1190">0.6</text>
    <text class="cb" x="858" y="1190">0.8</text>
    <text class="cb" x="940" y="1190">1.0</text>
  </g>
  <g>
    <text class="cb" x="94" y="1242">0</text>
    <text class="cb" x="290" y="1242">700</text>
    <text class="cb" x="486" y="1242">1400</text>
    <text class="cb" x="680" y="1242">2100</text>
    <text class="cb" x="716" y="1285">km</text>
  </g>
  <use href="#scale-bar"/>
</g>

<!-- PANEL D -->
<g id="chart-d">
  <text x="1930" y="1498" font-size="64" textLength="82" lengthAdjust="spacingAndGlyphs">(d)</text>
  <g>
    <rect x="2059" y="1458" width="141" height="55" fill="#f5bf8f" stroke="#222" stroke-width="2.5"/>
    <text x="2214" y="1506" font-size="62" textLength="325" lengthAdjust="spacingAndGlyphs">Temperature</text>
    <rect x="2562" y="1456" width="141" height="55" fill="#b4c0f8" stroke="#222" stroke-width="2.5"/>
    <text x="2722" y="1502" font-size="62" textLength="326" lengthAdjust="spacingAndGlyphs">Precipitation</text>
    <rect x="3069" y="1456" width="141" height="55" fill="#d6aefb" stroke="#222" stroke-width="2.5"/>
    <text x="3226" y="1505" font-size="62" textLength="133" lengthAdjust="spacingAndGlyphs">CVA</text>
  </g>
  <text transform="translate(1812 2214) rotate(-90)" font-size="58" textLength="419" lengthAdjust="spacingAndGlyphs">Percentages (%)</text>
</g>
</svg>

<script>
const categories = ['Southwest', 'South central', 'Northwest', 'Northeast', 'North', 'East'];
const seriesNames = ['temperature', 'precipitation', 'cva'];
const seriesColors = ['#f5bf8f', '#b4c0f8', '#d6aefb'];
const temperatureUpperInner = [25, 46, 22, 17, 19, 50];
const temperatureUpperOuter = [21, 21, 21, 16, 18, 21];
const temperatureLowerInner = [31, 17, 35, 47, 43, 14];
const temperatureLowerOuter = [23, 16, 22, 20, 20, 15];
const precipitationUpperInner = [37, 44, 31, 31, 38, 51];
const precipitationUpperOuter = [22, 20, 24, 17, 23, 20];
const precipitationLowerInner = [21, 19, 22, 35, 20, 15];
const precipitationLowerOuter = [20, 17, 23, 17, 19, 14];
const cvaUpperInner = [29, 35, 29, 25, 29, 32];
const cvaUpperOuter = [26, 26, 25, 25, 27, 26];
const cvaLowerInner = [21, 18, 22, 25, 21, 20];
const cvaLowerOuter = [24, 21, 24, 25, 23, 22];
const yTickValues = [100, 80, 60, 40, 20, 0, -20, -40, -60, -80, -100];
const yTickLabels = ['100', '80', '60', '40', '20', '0', '20', '40', '60', '80', '100'];

const plotLeft = 1933, plotRight = 3455, plotTop = 1531, plotBottom = 2436;
const yDomainMax = 100, yDomainMin = -100;
function yScale(v) {
  return plotBottom - (v - yDomainMin) / (yDomainMax - yDomainMin) * (plotBottom - plotTop);
}
const bandStep = (plotRight - plotLeft) / categories.length;
function xCenter(i) {
  return plotLeft + bandStep * (i + 0.5);
}
const barWidth = bandStep * 0.233;
function xBar(i, s) {
  return xCenter(i) + (s - 1.5) * barWidth;
}

const chart = document.getElementById('chart-d');
function make(tag) {
  return document.createElementNS('http://www.w3.org/2000/svg', tag);
}
function drawSegment(i, s, from, to, fill, name) {
  const y1 = yScale(Math.max(from, to));
  const y2 = yScale(Math.min(from, to));
  const rect = make('rect');
  
  
  rect.setAttribute('x', xBar(i, s));
  rect.setAttribute('y', y1);
  rect.setAttribute('width', barWidth);
  rect.setAttribute('height', y2 - y1);
  rect.setAttribute('fill', fill);
  rect.setAttribute('stroke', '#111');
  rect.setAttribute('stroke-width', '2.5');
  chart.appendChild(rect);
  const label = make('text');
  
  
  label.setAttribute('x', xBar(i, s) + barWidth / 2);
  label.setAttribute('y', (y1 + y2) / 2 + 16);
  label.setAttribute('font-size', '49');
  label.setAttribute('text-anchor', 'middle');
  label.textContent = String(Math.abs(to - from));
  chart.appendChild(label);
}
const seriesTables = [
  [temperatureUpperInner, temperatureUpperOuter, temperatureLowerInner, temperatureLowerOuter],
  [precipitationUpperInner, precipitationUpperOuter, precipitationLowerInner, precipitationLowerOuter],
  [cvaUpperInner, cvaUpperOuter, cvaLowerInner, cvaLowerOuter]
];
categories.forEach(function (cat, i) {
  seriesTables.forEach(function (t, s) {
    const slug = cat.toLowerCase().replace(' ', '-') + '-' + seriesNames[s];
    drawSegment(i, s, 0, t[0][i], seriesColors[s], 'bar-' + slug + '-upper');
    drawSegment(i, s, t[0][i], t[0][i] + t[1][i], '#fff', 'bar-' + slug + '-upper-outer');
    drawSegment(i, s, 0, -t[2][i], seriesColors[s], 'bar-' + slug + '-lower');
    drawSegment(i, s, -t[2][i], -t[2][i] - t[3][i], '#fff', 'bar-' + slug + '-lower-outer');
  });
});

const frame = make('rect');


frame.setAttribute('x', plotLeft);
frame.setAttribute('y', plotTop);
frame.setAttribute('width', plotRight - plotLeft);
frame.setAttribute('height', plotBottom - plotTop);
frame.setAttribute('fill', 'none');
frame.setAttribute('stroke', '#111');
frame.setAttribute('stroke-width', '3.5');
chart.appendChild(frame);

function drawLine(x1, y1, x2, y2, name, w) {
  const line = make('line');
  
  
  line.setAttribute('x1', x1);
  line.setAttribute('y1', y1);
  line.setAttribute('x2', x2);
  line.setAttribute('y2', y2);
  line.setAttribute('stroke', '#111');
  line.setAttribute('stroke-width', w);
  chart.appendChild(line);
}
drawLine(plotLeft, yScale(0), plotRight, yScale(0), 'zero-line', 3.5);

yTickValues.forEach(function (v, i) {
  const y = yScale(v);
  drawLine(plotLeft, y, plotLeft + 18, y, 'y-tick', 3);
  drawLine(plotRight, y, plotRight - 18, y, 'y-tick-right', 3);
  const t = make('text');
  
  
  t.setAttribute('x', plotLeft - 23);
  t.setAttribute('y', y + 16);
  t.setAttribute('font-size', '48');
  t.setAttribute('text-anchor', 'end');
  t.textContent = yTickLabels[i];
  chart.appendChild(t);
});

categories.forEach(function (cat, i) {
  const x = xCenter(i);
  drawLine(x, plotBottom, x, plotBottom - 18, 'x-tick', 3);
  drawLine(x, plotTop, x, plotTop + 18, 'x-tick-top', 3);
  const t = make('text');
  
  
  t.setAttribute('x', x - 5);
  t.setAttribute('y', 2500);
  t.setAttribute('font-size', '49');
  t.setAttribute('text-anchor', 'middle');
  t.textContent = cat;
  chart.appendChild(t);
});
</script>
</body>
</html>
